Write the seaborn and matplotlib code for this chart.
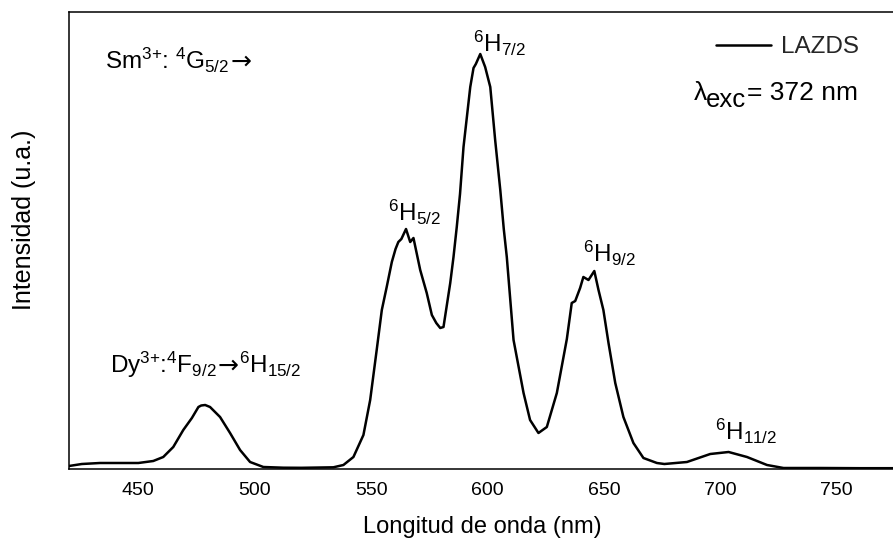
import matplotlib
matplotlib.use("Agg")
import matplotlib.pyplot as plt
import matplotlib.transforms as mtransforms
from matplotlib.ticker import MultipleLocator, NullLocator
import seaborn as sns

# ---- data ----
wavelength = [420.2, 425.7, 433.5, 450.0, 456.4, 460.7, 465.0, 469.3, 473.0, 475.8,
              477.0, 478.7, 480.8, 485.1, 489.4, 493.7, 498.0, 503.7, 512.3, 520.0,
              533.8, 538.1, 542.4, 546.7, 549.6, 552.4, 554.6, 556.7, 558.9, 560.5,
              561.7, 563.0, 565.0, 566.8, 568.2, 571.1, 573.9, 576.1, 578.0, 579.7,
              581.1, 584.0, 585.4, 586.8, 588.2, 589.7, 592.6, 594.0, 595.0, 596.9,
              599.0, 601.2, 603.3, 605.5, 607.0, 608.3, 611.2, 615.5, 618.3, 621.9,
              625.5, 629.8, 634.1, 636.2, 637.7, 639.8, 641.2, 643.4, 645.9, 647.7,
              649.8, 652.0, 654.9, 658.4, 662.7, 667.0, 672.8, 676.0, 685.7, 695.7,
              703.6, 711.5, 720.1, 727.2, 743.0, 760.0, 775.0]
intensity = [3, 5, 6, 6, 8, 12, 22, 39, 51, 62,
             63.5, 64, 62, 52, 36, 19, 7, 2, 1.3, 1.2,
             1.7, 4, 12, 34, 69, 119, 159, 182, 207, 220,
             227, 230, 240, 227, 231, 199, 176, 154, 146, 141,
             142, 186, 212, 242, 275, 322, 382, 401, 405, 415,
             402, 382, 329, 279, 240, 212, 129, 76, 49, 36,
             42, 76, 130, 166, 168, 181, 192, 189, 198, 179,
             159, 126, 86, 52, 26, 11, 6, 5, 7, 15,
             17, 12, 4, 1, 1, 0.8, 0.8]
series_label = "LAZDS"
x_label = "Longitud de onda (nm)"
y_label = "Intensidad (u.a.)"
x_ticks = [450, 500, 550, 600, 650, 700, 750]

# each annotation is a list of text pieces drawn left to right
annotation_pieces = [["Sm$^{3{+}}$: $^{4}$G$_{5/2}$", "→"],
                     ["Dy$^{3{+}}$:$^{4}$F$_{9/2}$", "→", "$^{6}$H$_{15/2}$"],
                     ["$^{6}$H$_{5/2}$"],
                     ["$^{6}$H$_{7/2}$"],
                     ["$^{6}$H$_{9/2}$"],
                     ["$^{6}$H$_{11/2}$"]]
annotation_x = [435.7, 437.8, 557.3, 593.8, 641.0, 697.8]
annotation_y = [400, 96, 248, 417, 207, 29]
excitation_parts = ["λ", "exc", "= 372 nm"]

# ---- style ----
sns.set_style("white")
plt.rcParams["font.family"] = ["Liberation Sans", "DejaVu Sans"]
plt.rcParams["mathtext.fontset"] = "custom"
plt.rcParams["mathtext.rm"] = "Liberation Sans"
plt.rcParams["mathtext.it"] = "Liberation Sans:italic"
plt.rcParams["mathtext.bf"] = "Liberation Sans:bold"
plt.rcParams["mathtext.default"] = "regular"

W, H = 893, 541
fig = plt.figure(figsize=(W / 100, H / 100), dpi=100)
ax = fig.add_axes([69 / W, 72 / H, 1.002 - 69 / W, 457 / H])

sns.lineplot(x=wavelength, y=intensity, ax=ax, color="black", linewidth=1.8,
             label=series_label)

ax.set_xlim(420.2, 775)
ax.set_ylim(0, 457)
ax.set_xticks(x_ticks)
ax.xaxis.set_minor_locator(MultipleLocator(25))
ax.yaxis.set_major_locator(NullLocator())
ax.tick_params(axis="x", which="major", direction="in", length=6.5, width=1.1,
               labelsize=14, pad=9.5, top=False, color="black", labelcolor="black")
ax.tick_params(axis="x", which="minor", direction="in", length=3.2, width=1.1, top=False)
for s in ax.spines.values():
    s.set_linewidth(1.1)
    s.set_color("black")

ax.set_xlabel(x_label, fontsize=17, labelpad=12, color="black")
ax.set_ylabel(y_label, fontsize=18, color="black")
ax.yaxis.set_label_coords(-0.040, 0.545)

leg = ax.legend(loc="upper right", bbox_to_anchor=(0.957, 0.947), frameon=False,
                fontsize=17.5, handlelength=2.26, handletextpad=0.41,
                borderpad=0, borderaxespad=0)

fig.canvas.draw()
r = fig.canvas.get_renderer()
ident = mtransforms.IdentityTransform()

# annotations: chain pieces left to right on a shared baseline
for pieces, xx, yy in zip(annotation_pieces, annotation_x, annotation_y):
    px, py = ax.transData.transform((xx, yy))
    for piece in pieces:
        if piece == "→":
            t = fig.text(px + 1, py, piece, fontsize=18, family="DejaVu Sans",
                         ha="left", va="baseline", color="black", transform=ident)
        else:
            t = fig.text(px, py, piece, fontsize=17.5, ha="left", va="baseline",
                         color="black", transform=ident)
        px = t.get_window_extent(r).x1

# excitation wavelength text, built right to left
t3 = fig.text(858, H - 100, excitation_parts[2], fontsize=19,
              ha="right", va="baseline", color="black", transform=ident)
x_left = t3.get_window_extent(r).x0
t2 = fig.text(x_left - 1, H - 107, excitation_parts[1], fontsize=18.5,
              ha="right", va="baseline", color="black", transform=ident)
x_left = t2.get_window_extent(r).x0
fig.text(x_left + 1, H - 100, excitation_parts[0], fontsize=19,
         ha="right", va="baseline", color="black", transform=ident)

fig.savefig("out.png", dpi=100)
